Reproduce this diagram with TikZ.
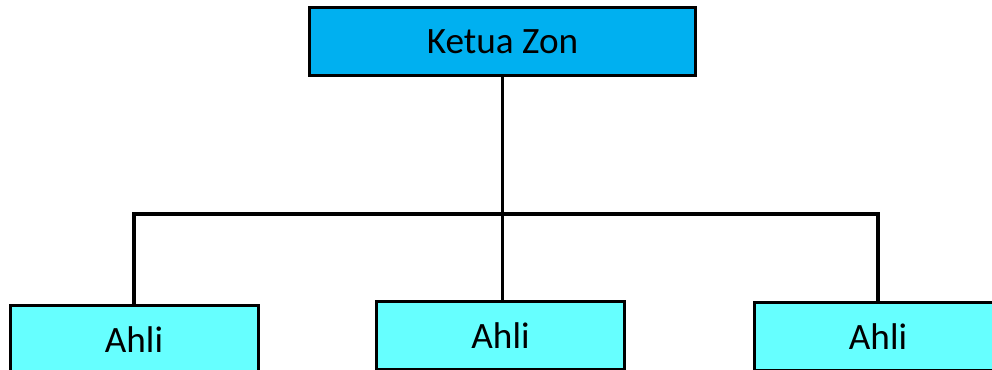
\documentclass[tikz,border=0pt]{standalone}
\usepackage{fontspec}
\setmainfont{Carlito}
\definecolor{topblue}{HTML}{00B0F0}
\definecolor{lightcyan}{HTML}{66FFFF}
\tikzset{
  box/.style={draw=black, line width=2.25pt, minimum height=51pt, inner sep=0pt, font=\fontsize{27.9}{33}\selectfont},
  topbox/.style={box, fill=topblue, minimum width=289.5pt},
  memberbox/.style={box, fill=lightcyan, minimum width=186pt},
  link/.style={draw=black, line width=2.4pt}
}
\begin{document}
\begin{tikzpicture}[x=0.75pt, y=-0.75pt]
\useasboundingbox (0,0) rectangle (992,370);
\clip (0,0) rectangle (992,370);
\node[topbox] (top) at (502.5,41.5) {Ketua Zon};
\node[memberbox] (lb) at (134,339.5) {Ahli};
\node[memberbox] (mb) at (500.5,335.5) {Ahli};
\node[memberbox] (rb) at (878,336.5) {Ahli};
\coordinate (hl) at (134,214);
\coordinate (hr) at (878,214);
\draw[link] (top.south) -- (top.south |- mb.north);
\draw[link, line join=miter] (lb.north) -- (hl) -- (hr) -- (rb.north);
\end{tikzpicture}
\end{document}
